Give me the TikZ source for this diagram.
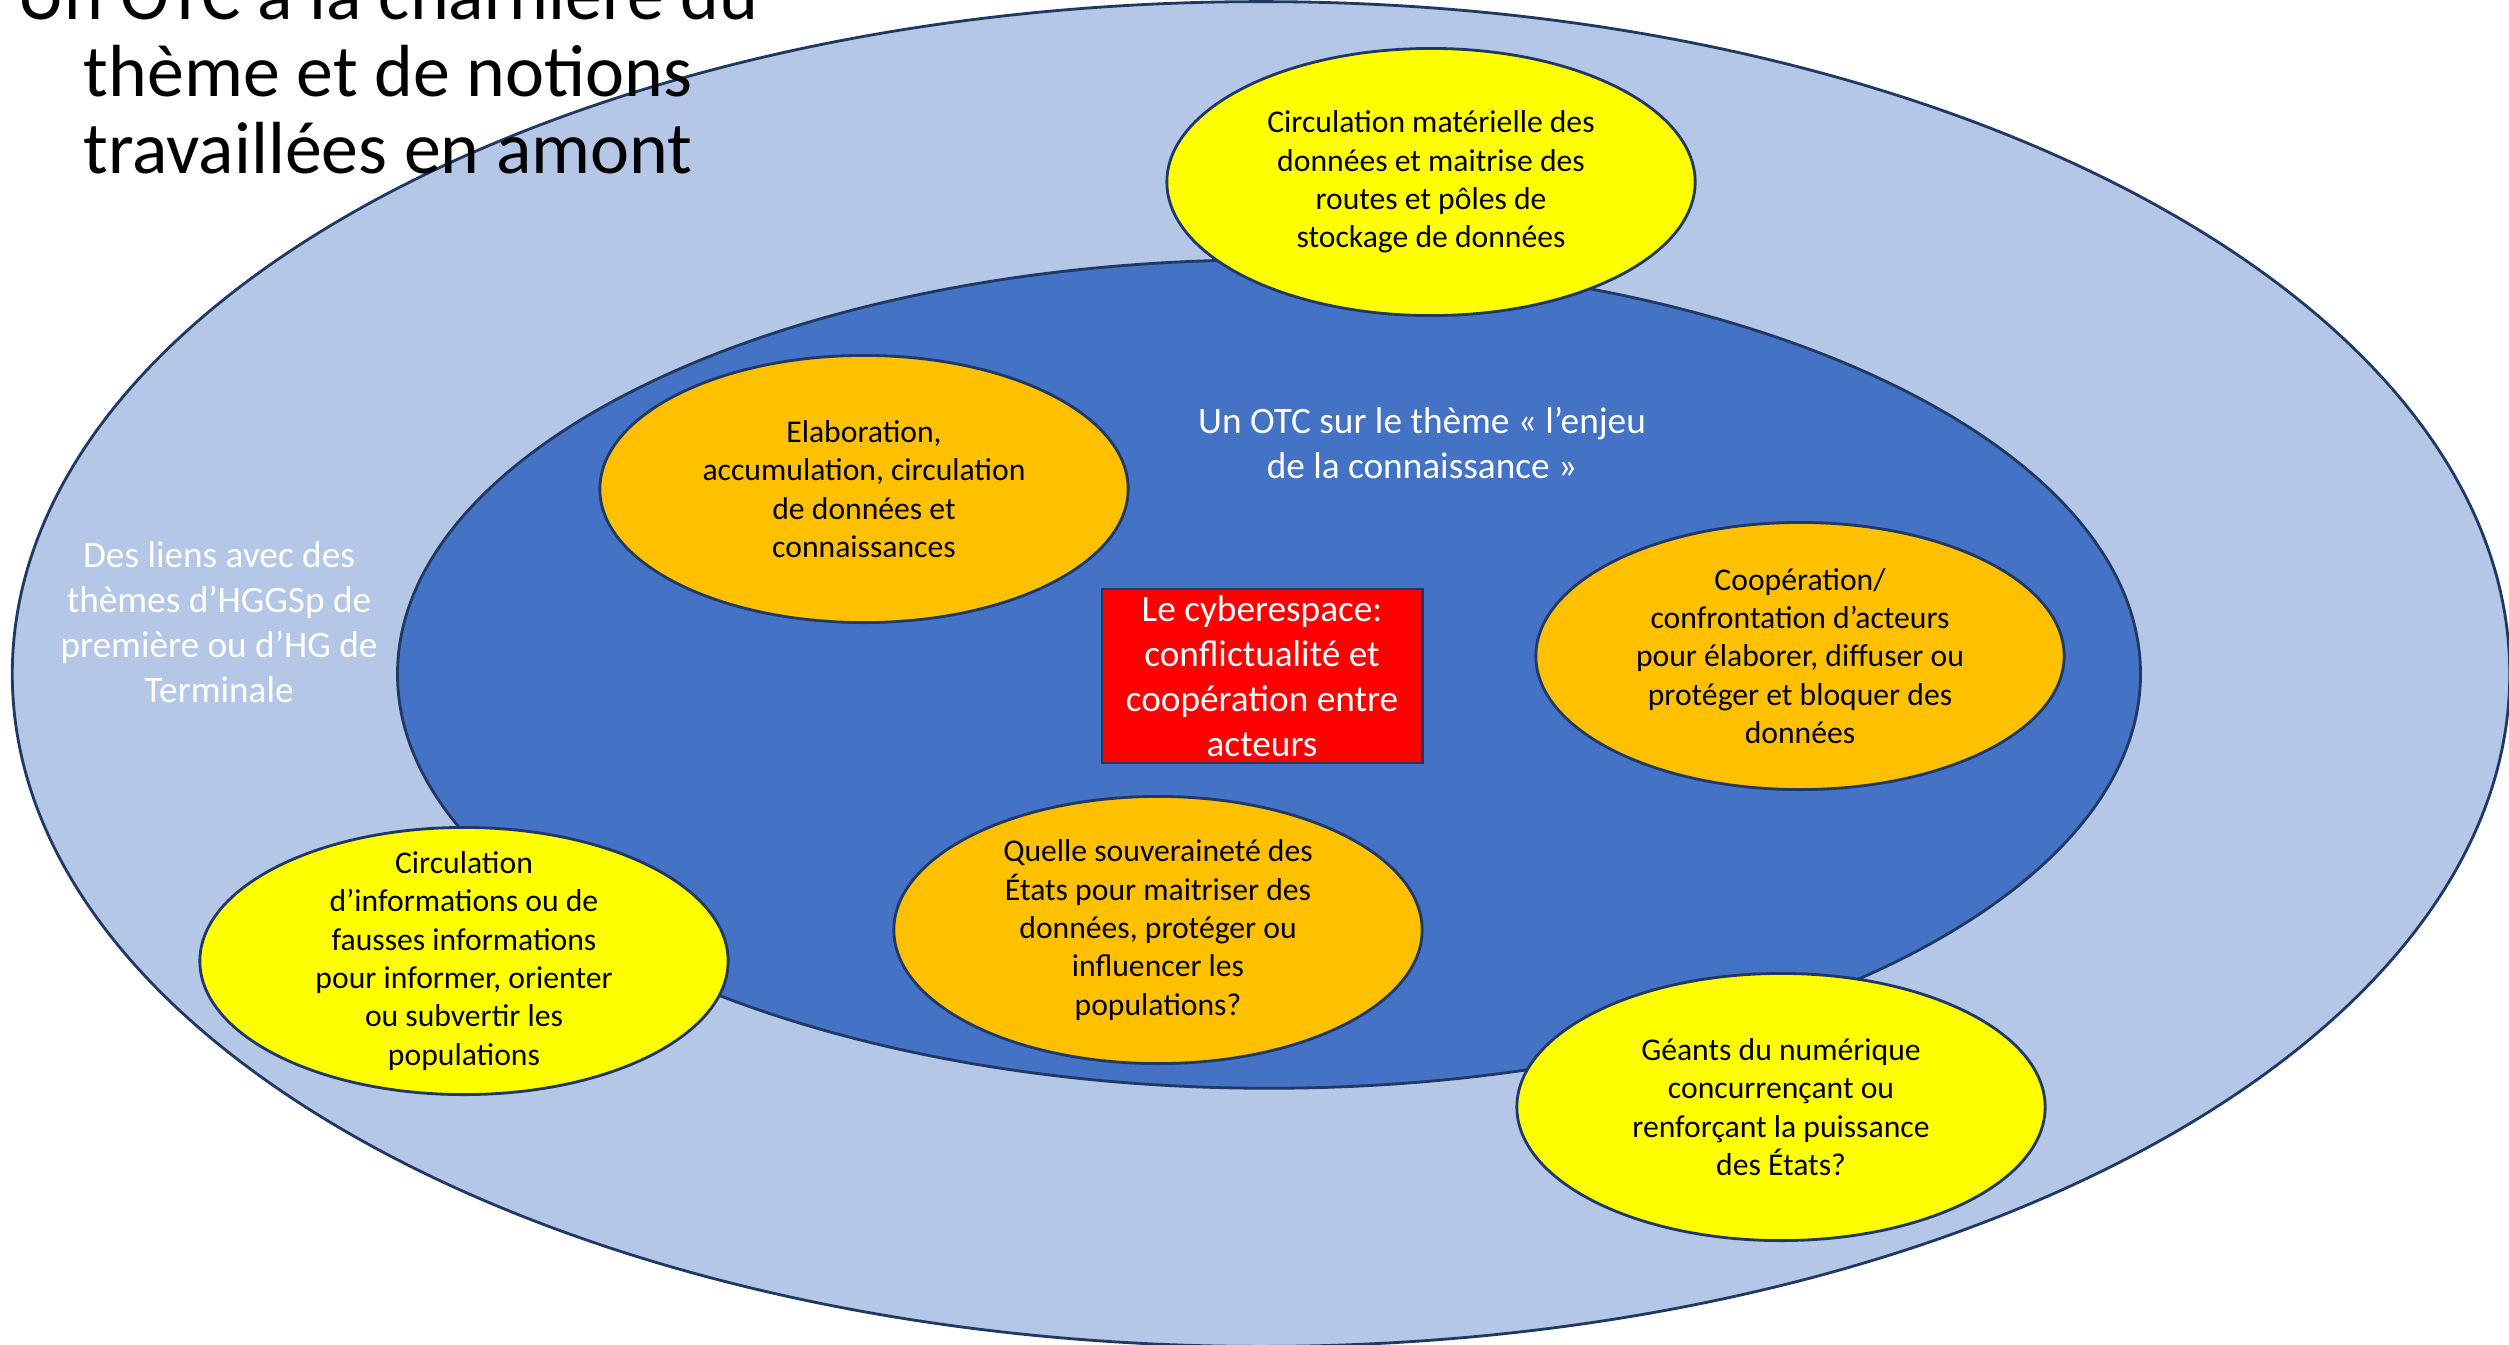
\documentclass[tikz,border=0pt]{standalone}
\usepackage{fontspec}
\setmainfont{Carlito}
\usetikzlibrary{shapes.geometric}
\definecolor{outerblue}{HTML}{B4C7E7}
\definecolor{innerblue}{HTML}{4472C4}
\definecolor{ybox}{HTML}{FFFF00}
\definecolor{obox}{HTML}{FFC000}
\definecolor{rbox}{HTML}{FF0000}
\definecolor{edgec}{HTML}{1F3864}
\tikzset{
  bigell/.style={draw=edgec, line width=0.8pt, ellipse, inner sep=0pt},
  smallell/.style={draw=edgec, line width=0.8pt, ellipse, inner sep=0pt, minimum width=5.28cm, minimum height=2.67cm},
  yell/.style={smallell, fill=ybox},
  oell/.style={smallell, fill=obox},
  etext/.style={align=center, inner sep=0pt, font=\fontsize{9pt}{10.9pt}\selectfont},
  wtext/.style={align=center, inner sep=0pt, text=white, font=\fontsize{10.6pt}{12.75pt}\selectfont},
  redbox/.style={draw=edgec, line width=0.8pt, fill=rbox, rectangle, inner sep=0pt, minimum width=3.2cm, minimum height=1.74cm},
  titletext/.style={align=center, inner sep=0pt, font=\fontsize{21pt}{21.9pt}\selectfont}
}
\begin{document}
\begin{tikzpicture}[x=0.01cm,y=-0.01cm]
\useasboundingbox (0,0) rectangle (2509,1344);
\clip (0,0) rectangle (2509,1344);
\node[bigell, fill=outerblue, minimum width=24.96cm, minimum height=13.44cm] (outer) at (1261,674) {};
\node[bigell, fill=innerblue, minimum width=17.42cm, minimum height=8.28cm] (inner) at (1269,674) {};
\node[wtext] (outerlabel) at (219,622) {Des liens avec des\\thèmes d’HGGSp de\\première ou d’HG de\\Terminale};
\node[wtext] (innerlabel) at (1422,443) {Un OTC sur le thème « l’enjeu\\de la connaissance »};

\node[yell] (ytop) at (1431,182) {};
\node[etext] (ytoptext) at (ytop.center) {Circulation matérielle des\\données et maitrise des\\routes et pôles de\\stockage de données};

\node[oell] (otl) at (864,489) {};
\node[etext] (otltext) at (otl.center) {Elaboration,\\accumulation, circulation\\de données et\\connaissances};

\node[oell] (or) at (1800,656) {};
\node[etext] (ortext) at (or.center) {Coopération/\\confrontation d’acteurs\\pour élaborer, diffuser ou\\protéger et bloquer des\\données};

\node[oell] (ob) at (1158,930) {};
\node[etext] (obtext) at (ob.center) {Quelle souveraineté des\\États pour maitriser des\\données, protéger ou\\influencer les\\populations?};

\node[yell] (yl) at (464,961) {};
\node[etext] (yltext) at (yl.center) {Circulation\\d’informations ou de\\fausses informations\\pour informer, orienter\\ou subvertir les\\populations};

\node[yell] (ybr) at (1781,1107) {};
\node[etext] (ybrtext) at (ybr.center) {Géants du numérique\\concurrençant ou\\renforçant la puissance\\des États?};

\node[redbox] (red) at (1262,676) {};
\node[wtext] (redtext) at (red.center) {Le cyberespace:\\conflictualité et\\coopération entre\\acteurs};

\node[titletext] (title) at (388,71) {Un OTC à la charnière du\\thème et de notions\\travaillées en amont};
\end{tikzpicture}
\end{document}
